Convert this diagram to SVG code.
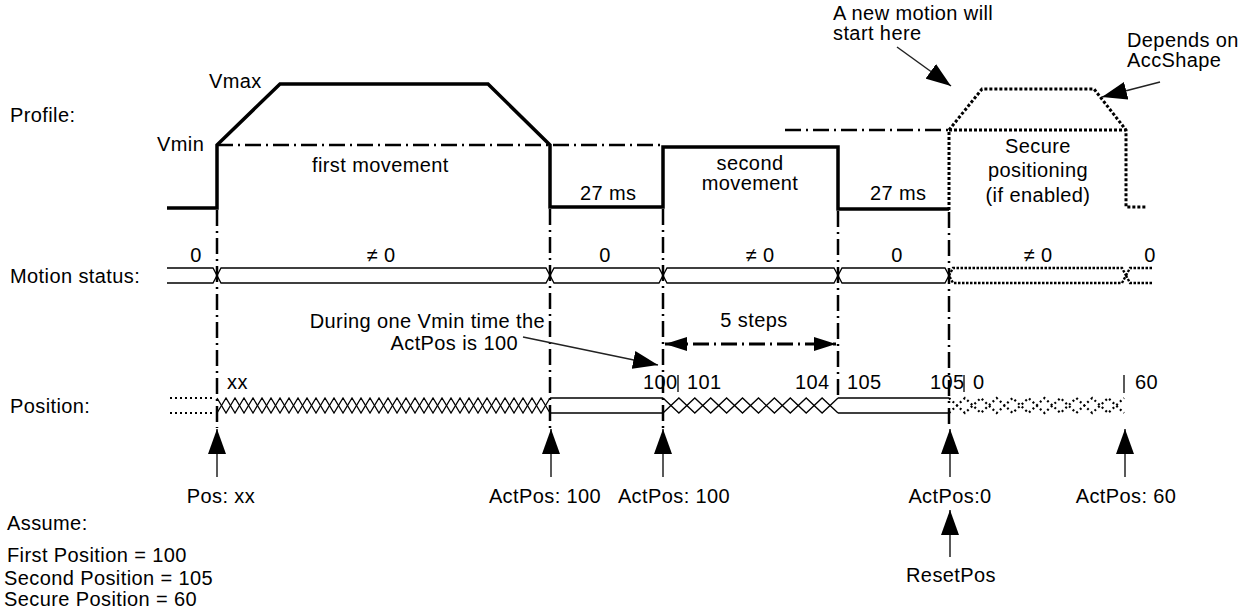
<svg xmlns="http://www.w3.org/2000/svg" width="1247" height="610" viewBox="0 0 1247 610">
<style>
.t{font-family:"Liberation Sans",Arial,sans-serif;font-size:20px;letter-spacing:0.4px;fill:#000}
.m{text-anchor:middle}
.prof{fill:none;stroke:#000;stroke-width:3.5;stroke-linejoin:miter}
.dd{fill:none;stroke:#000;stroke-width:2.5;stroke-dasharray:16 5 2 5}
.dot{fill:none;stroke:#000;stroke-width:3;stroke-dasharray:3 2}
.bus{fill:none;stroke:#000;stroke-width:1.3}
.busd{fill:none;stroke:#000;stroke-width:2.4;stroke-dasharray:2.5 1.5}
.zz{fill:none;stroke:#000;stroke-width:1.3}
.zzd{fill:none;stroke:#000;stroke-width:2.2;stroke-dasharray:2 3}
.tick{stroke:#000;stroke-width:1.3}
.arr{fill:none;stroke:#222;stroke-width:1.5}
</style>
<defs>
<marker id="ah" viewBox="0 0 25 18" refX="25" refY="9" markerWidth="25" markerHeight="18" markerUnits="userSpaceOnUse" orient="auto"><path d="M0,0 L25,9 L0,18 Z" fill="#000"/></marker>
<marker id="ah2" viewBox="0 0 22 14" refX="22" refY="7" markerWidth="22" markerHeight="14" markerUnits="userSpaceOnUse" orient="auto-start-reverse"><path d="M0,0 L22,7 L0,14 Z" fill="#000"/></marker>
</defs>
<rect width="1247" height="610" fill="#fff"/>

<g id="row-labels">
<text class="t" x="10" y="122">Profile:</text>
<text class="t" x="10" y="283">Motion status:</text>
<text class="t" x="10" y="413">Position:</text>
</g>

<g id="profile">
<path class="prof" d="M167,208 H217 V145 L280,84 H488 L550,145 V207 H663 V147 H838 V209 H949"/>
<line class="dd" x1="217" y1="145" x2="663" y2="145"/>
<line class="dd" x1="785" y1="130" x2="949" y2="130"/>
<path class="dot" d="M949,210 V130 L982,89 H1094 L1126,130 V207 H1147"/>
<line class="dot" x1="949" y1="130" x2="1126" y2="130"/>
<text class="t" x="209" y="88">Vmax</text>
<text class="t" x="157" y="151">Vmin</text>
<text class="t" x="312" y="172">first movement</text>
<text class="t" x="580" y="200">27 ms</text>
<text class="t m" x="750" y="170">second</text>
<text class="t m" x="750" y="190">movement</text>
<text class="t" x="870" y="200">27 ms</text>
<text class="t m" x="1038" y="153">Secure</text>
<text class="t m" x="1038" y="177">positioning</text>
<text class="t m" x="1038" y="202">(if enabled)</text>
</g>

<g id="motion-status">
<path class="bus" d="M167,268 H213 L217,275.5 L213,283 H167"/>
<path class="bus" d="M217,275.5 L221,268 H546 L550,275.5 L546,283 H221 Z"/>
<path class="bus" d="M550,275.5 L554,268 H659 L663,275.5 L659,283 H554 Z"/>
<path class="bus" d="M663,275.5 L667,268 H834 L838,275.5 L834,283 H667 Z"/>
<path class="bus" d="M838,275.5 L842,268 H945 L949,275.5 L945,283 H842 Z"/>
<path class="busd" d="M949,275.5 L953,268 H1122 L1126,275.5 L1122,283 H953 Z"/>
<path class="busd" d="M1126,275.5 L1130,268 H1153 M1126,275.5 L1130,283 H1153"/>
<text class="t m" x="196" y="262">0</text>
<text class="t m" x="381" y="262">≠ 0</text>
<text class="t m" x="605" y="262">0</text>
<text class="t m" x="760" y="262">≠ 0</text>
<text class="t m" x="897" y="262">0</text>
<text class="t m" x="1038" y="262">≠ 0</text>
<text class="t m" x="1150" y="262">0</text>
</g>

<g id="position">
<path class="zzd" d="M170,398 H212 M170,413 H212"/>
<path class="zz" d="M217 398 L226 413 L235 398 L244 413 L253 398 L262 413 L271 398 L280 413 L289 398 L298 413 L307 398 L316 413 L325 398 L334 413 L343 398 L352 413 L361 398 L370 413 L379 398 L388 413 L397 398 L406 413 L415 398 L424 413 L433 398 L442 413 L451 398 L460 413 L469 398 L478 413 L487 398 L496 413 L505 398 L514 413 L523 398 L532 413 L541 398 L550 413"/>
<path class="zz" d="M217 413 L226 398 L235 413 L244 398 L253 413 L262 398 L271 413 L280 398 L289 413 L298 398 L307 413 L316 398 L325 413 L334 398 L343 413 L352 398 L361 413 L370 398 L379 413 L388 398 L397 413 L406 398 L415 413 L424 398 L433 413 L442 398 L451 413 L460 398 L469 413 L478 398 L487 413 L496 398 L505 413 L514 398 L523 413 L532 398 L541 413 L550 398"/>
<path class="bus" d="M550,398 H663 M550,413 H663"/>
<path class="zz" d="M663 398 L678.9 413 L694.8 398 L710.7 413 L726.6 398 L742.5 413 L758.5 398 L774.4 413 L790.3 398 L806.2 413 L822.1 398 L838 413"/>
<path class="zz" d="M663 413 L678.9 398 L694.8 413 L710.7 398 L726.6 413 L742.5 398 L758.5 413 L774.4 398 L790.3 413 L806.2 398 L822.1 413 L838 398"/>
<path class="bus" d="M838,398 H949 M838,413 H949"/>
<path class="zzd" d="M949 398 L964.9 413 L980.8 398 L996.7 413 L1012.6 398 L1028.5 413 L1044.5 398 L1060.4 413 L1076.3 398 L1092.2 413 L1108.1 398 L1124 413"/>
<path class="zzd" d="M949 413 L964.9 398 L980.8 413 L996.7 398 L1012.6 413 L1028.5 398 L1044.5 413 L1060.4 398 L1076.3 413 L1092.2 398 L1108.1 413 L1124 398"/>
<line class="tick" x1="678" y1="375" x2="678" y2="392"/>
<line class="tick" x1="964" y1="375" x2="964" y2="392"/>
<line class="tick" x1="1124" y1="375" x2="1124" y2="393"/>
<text class="t" x="227" y="389">xx</text>
<text class="t" x="643" y="389">100</text>
<text class="t" x="687" y="389">101</text>
<text class="t" x="795" y="389">104</text>
<text class="t" x="847" y="389">105</text>
<text class="t" x="930" y="389">105</text>
<text class="t" x="973" y="389">0</text>
<text class="t" x="1135" y="389">60</text>
</g>

<g id="time-markers">
<line class="dd" x1="217" y1="210" x2="217" y2="428"/>
<line class="dd" x1="550" y1="209" x2="550" y2="428"/>
<line class="dd" x1="663" y1="209" x2="663" y2="428"/>
<line class="dd" x1="838" y1="211" x2="838" y2="400"/>
<line class="dd" x1="949" y1="212" x2="949" y2="428"/>
</g>

<g id="connectors">
<line class="arr" x1="897" y1="47" x2="951" y2="86" marker-end="url(#ah)"/>
<line class="arr" x1="1160" y1="82" x2="1102" y2="97" marker-end="url(#ah)"/>
<line class="arr" x1="523" y1="337" x2="658" y2="365" marker-end="url(#ah)"/>
<line class="dd" x1="665" y1="344" x2="836" y2="344" style="stroke-width:3" marker-start="url(#ah2)" marker-end="url(#ah2)"/>
<line class="arr" x1="217" y1="477" x2="217" y2="429" marker-end="url(#ah)"/>
<line class="arr" x1="551" y1="477" x2="551" y2="429" marker-end="url(#ah)"/>
<line class="arr" x1="663" y1="477" x2="663" y2="429" marker-end="url(#ah)"/>
<line class="arr" x1="950" y1="477" x2="950" y2="429" marker-end="url(#ah)"/>
<line class="arr" x1="1125" y1="477" x2="1125" y2="429" marker-end="url(#ah)"/>
<line class="arr" x1="950" y1="557" x2="950" y2="510" marker-end="url(#ah)"/>
</g>

<g id="annotations">
<text class="t" x="833" y="20">A new motion will</text>
<text class="t" x="833" y="40">start here</text>
<text class="t" x="1127" y="47">Depends on</text>
<text class="t" x="1127" y="67">AccShape</text>
<text class="t" x="545" y="328" text-anchor="end">During one Vmin time the</text>
<text class="t" x="518" y="350" text-anchor="end">ActPos is 100</text>
<text class="t m" x="754" y="327">5 steps</text>
<text class="t m" x="221" y="503">Pos: xx</text>
<text class="t m" x="545" y="503">ActPos: 100</text>
<text class="t m" x="674" y="503">ActPos: 100</text>
<text class="t m" x="950" y="503">ActPos:0</text>
<text class="t m" x="1126" y="503">ActPos: 60</text>
<text class="t m" x="951" y="582">ResetPos</text>
</g>

<g id="assumptions">
<text class="t" x="7" y="530">Assume:</text>
<text class="t" x="7" y="562">First Position = 100</text>
<text class="t" x="4" y="585">Second Position = 105</text>
<text class="t" x="4" y="606">Secure Position = 60</text>
</g>
</svg>
